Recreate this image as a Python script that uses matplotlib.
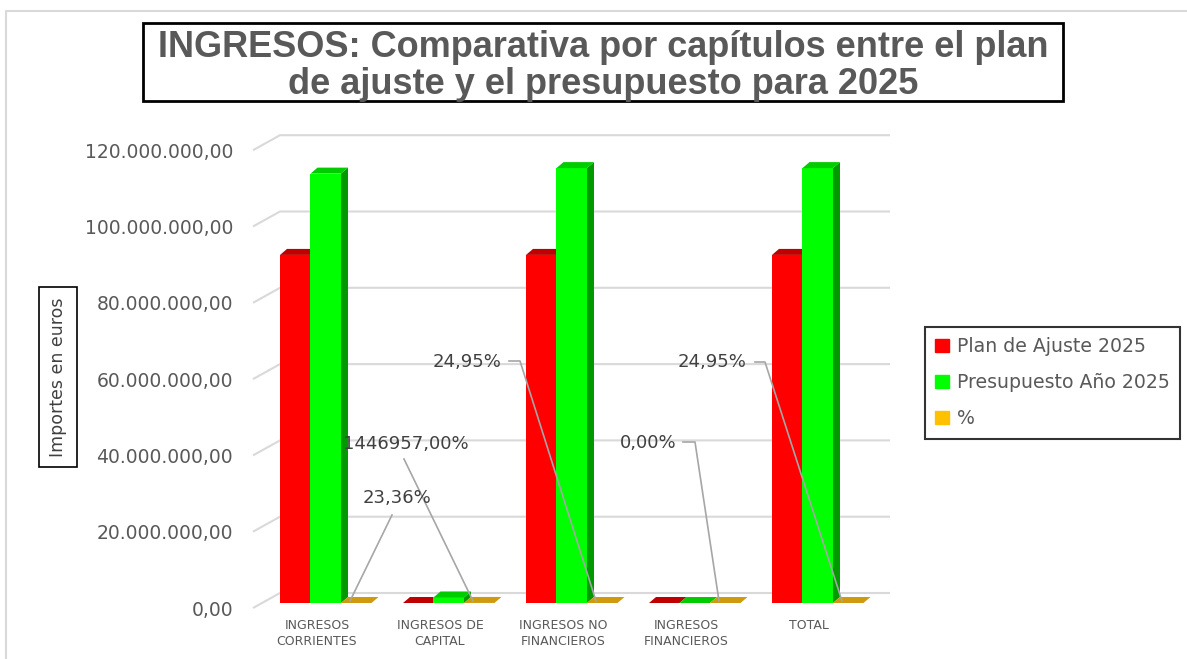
import matplotlib
matplotlib.use('Agg')
import matplotlib.pyplot as plt
from matplotlib.patches import Patch, Rectangle
from matplotlib.lines import Line2D
from matplotlib import font_manager as fm
import matplotlib.transforms as mtransforms

# datos
categorias = ['INGRESOS\nCORRIENTES', 'INGRESOS DE\nCAPITAL', 'INGRESOS NO\nFINANCIEROS',
              'INGRESOS\nFINANCIEROS', 'TOTAL']
plan_ajuste = [91240000, 100, 91240100, 0, 91240100]
presupuesto = [112550000, 1447057, 113997057, 0, 113997057]
porcentaje = [0.2336, 14469.57, 0.2495, 0.0, 0.2495]
etiquetas_pct = ['23,36%', '1446957,00%', '24,95%', '0,00%', '24,95%']
series = ['Plan de Ajuste 2025', 'Presupuesto Año 2025', '%']
ticks_y = [0, 20e6, 40e6, 60e6, 80e6, 100e6, 120e6]
ticks_txt = ['0,00', '20.000.000,00', '40.000.000,00', '60.000.000,00',
             '80.000.000,00', '100.000.000,00', '120.000.000,00']
titulo = 'INGRESOS: Comparativa por capítulos entre el plan\nde ajuste y el presupuesto para 2025'

# escala (pixeles de la figura)
W, H = 1187, 659
C0, CSTEP = 317, 123          # centro de la primera categoria y paso
Y0, YSTEP = 603, 76.3         # base de las barras y px por 20M
PX_Y = 20e6 / YSTEP
PX_X = 1 / CSTEP
DX, DY = 7 * PX_X, 6 * PX_Y   # profundidad 3D


def px_x(p):
    return (p - C0) / CSTEP


def px_y(p):
    return (Y0 - p) * PX_Y


fig = plt.figure(figsize=(W / 100, H / 100), dpi=100)
L, R, T, B = 250, 890, 120, 612
ax = fig.add_axes([L / W, 1 - B / H, (R - L) / W, (B - T) / H])
ax.set_xlim(px_x(L), px_x(R))
ax.set_ylim(px_y(B), px_y(T))
ax.set_facecolor('none')
for s in ax.spines.values():
    s.set_visible(False)

# rejilla con suelo en perspectiva
for v in ticks_y:
    ax.plot([px_x(253), px_x(280), px_x(890)],
            [v - 5 * PX_Y, v + 10 * PX_Y, v + 10 * PX_Y],
            color='#d9d9d9', lw=1.5, zorder=1, solid_capstyle='butt')

bw = 30.5 * PX_X
off = [-37 * PX_X, -37 * PX_X + bw, -37 * PX_X + 2 * bw]
front = ['#ff0000', '#00ff00', '#ffc000']
top = ['#c00000', '#00cc00', '#d09a10']
side = ['#a00000', '#009a00', '#b07800']


def barra3d(x0, h, k, z):
    x1 = x0 + bw
    if h > 3 * PX_Y:
        ax.bar(x0, h, width=bw, align='edge', color=front[k], lw=0, zorder=z)
        ax.fill([x1, x1, x1 + DX, x1 + DX], [0, h, h + DY, DY], color=side[k], lw=0, zorder=z)
    ax.fill([x0, x1, x1 + DX, x0 + DX], [h, h, h + DY, h + DY], color=top[k], lw=0, zorder=z)


for i in range(len(categorias)):
    barra3d(i + off[0], plan_ajuste[i], 0, 3)
    barra3d(i + off[1], presupuesto[i], 1, 4)
    barra3d(i + off[2], porcentaje[i], 2, 5)

# ejes
ax.set_yticks(ticks_y, ticks_txt)
ax.tick_params(axis='y', length=0, pad=12.2, labelsize=13.5, labelcolor='#595959')
desp = mtransforms.ScaledTranslation(0, -5 / 100, fig.dpi_scale_trans)
for lb in ax.get_yticklabels():
    lb.set_transform(lb.get_transform() + desp)
ax.set_xticks(range(len(categorias)), categorias)
ax.tick_params(axis='x', length=0, pad=5, labelsize=9, labelcolor='#595959')
for lb in ax.get_xticklabels():
    lb.set_linespacing(1.35)

# etiquetas de datos con lineas guia
pos_txt = [(397, 498), (406, 444), (467, 362), (648, 443), (712, 362)]
guia_ini = [(392, 515), (404, 459), (509, 361), (683, 442), (755, 362)]
guia_codo = [None, None, (520, 361), (695, 442), (765, 362)]
for i, et in enumerate(etiquetas_pct):
    xs = [px_x(guia_ini[i][0])]
    ys = [px_y(guia_ini[i][1])]
    if guia_codo[i] is not None:
        xs.append(px_x(guia_codo[i][0]))
        ys.append(px_y(guia_codo[i][1]))
    xs.append(i + off[2] + 9 * PX_X)
    ys.append(porcentaje[i] * 0 + 2 * PX_Y)
    ax.plot(xs, ys, color='#a6a6a6', lw=1.2, zorder=6)
    ax.text(px_x(pos_txt[i][0]), px_y(pos_txt[i][1]), et, ha='center', va='center',
            fontsize=13, color='#404040', zorder=7)

# titulo
nombres = {f.name for f in fm.fontManager.ttflist}
if 'Liberation Sans Narrow' in nombres:
    fam, tam = 'Liberation Sans Narrow', 26.5
else:
    fam, tam = 'Liberation Sans', 26
fig.add_artist(Rectangle((143 / W, 1 - 101 / H), 920 / W, 78 / H, transform=fig.transFigure,
                         fill=False, ec='black', lw=2))
fig.text(603 / W, 1 - 66 / H, titulo, ha='center', va='center', fontsize=tam,
         family=fam, fontweight='bold', color='#595959', linespacing=1.08)

# titulo del eje
fig.text(58 / W, 1 - 377 / H, 'Importes en euros', rotation=90, ha='center', va='center',
         fontsize=12.5, color='#404040',
         bbox=dict(boxstyle='square,pad=0.6', fc='white', ec='black', lw=1.2))

# leyenda
manejadores = [Patch(color=c) for c in front]
ley = fig.legend(manejadores, series, loc='upper left', bbox_to_anchor=(925 / W, 1 - 327 / H),
                 fontsize=13.6, handlelength=0.7, handleheight=0.7, handletextpad=0.45,
                 labelspacing=0.9, borderpad=0.55, fancybox=False, edgecolor='black',
                 borderaxespad=0)
ley.get_frame().set_linewidth(1.5)
for t in ley.get_texts():
    t.set_color('#595959')

# borde del grafico
fig.add_artist(Line2D([6 / W, 6 / W, 1], [0, 1 - 11 / H, 1 - 11 / H], transform=fig.transFigure,
                      color='#d9d9d9', lw=1.5))

fig.savefig('out.png', dpi=100)
